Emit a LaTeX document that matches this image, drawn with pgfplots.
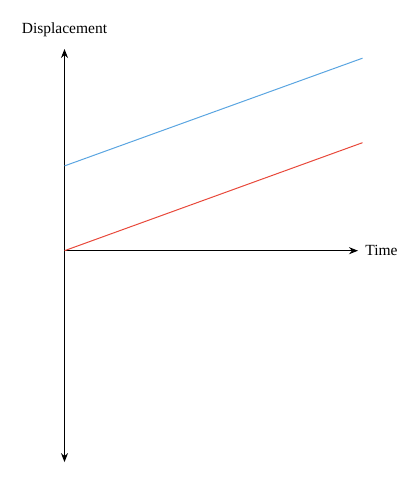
\documentclass[border=0pt]{standalone}
\usepackage{pgfplots}
\pgfplotsset{compat=1.18}
\usetikzlibrary{arrows.meta}
\usepackage{fontspec}
\setmainfont{Liberation Serif}
\definecolor{lineblue}{RGB}{90,165,225}
\definecolor{linered}{RGB}{232,72,58}

\begin{document}
\fontsize{15.5}{18}\selectfont
\begin{tikzpicture}
\begin{axis}[
    anchor=origin, at={(0pt,0pt)},
    x=29.8pt, y=27pt,
    xmin=0, xmax=9.85,
    ymin=-7.83, ymax=7.47,
    axis lines=middle,
    axis line style={line width=1.2pt},
    x axis line style={-{Stealth[length=9pt,width=7pt]}},
    y axis line style={{Stealth[length=9pt,width=7pt]}-{Stealth[length=9pt,width=7pt]}},
    xtick=\empty, ytick=\empty,
    clip=false,
    xlabel={Time},
    ylabel={Displacement},
    every axis x label/.style={at={(axis cs:9.85,0)}, anchor=west, xshift=2pt},
    every axis y label/.style={at={(axis cs:0,7.47)}, anchor=south, yshift=6.5pt},
  ]
\addplot[color=linered, line width=1pt] coordinates {(0,0) (10,4)};
\addplot[color=lineblue, line width=1pt] coordinates {(0,3.14) (10,7.13)};
\end{axis}
\path (-64.5pt,-228.3pt) rectangle (355.5pt,250.7pt);
\end{tikzpicture}
\end{document}
